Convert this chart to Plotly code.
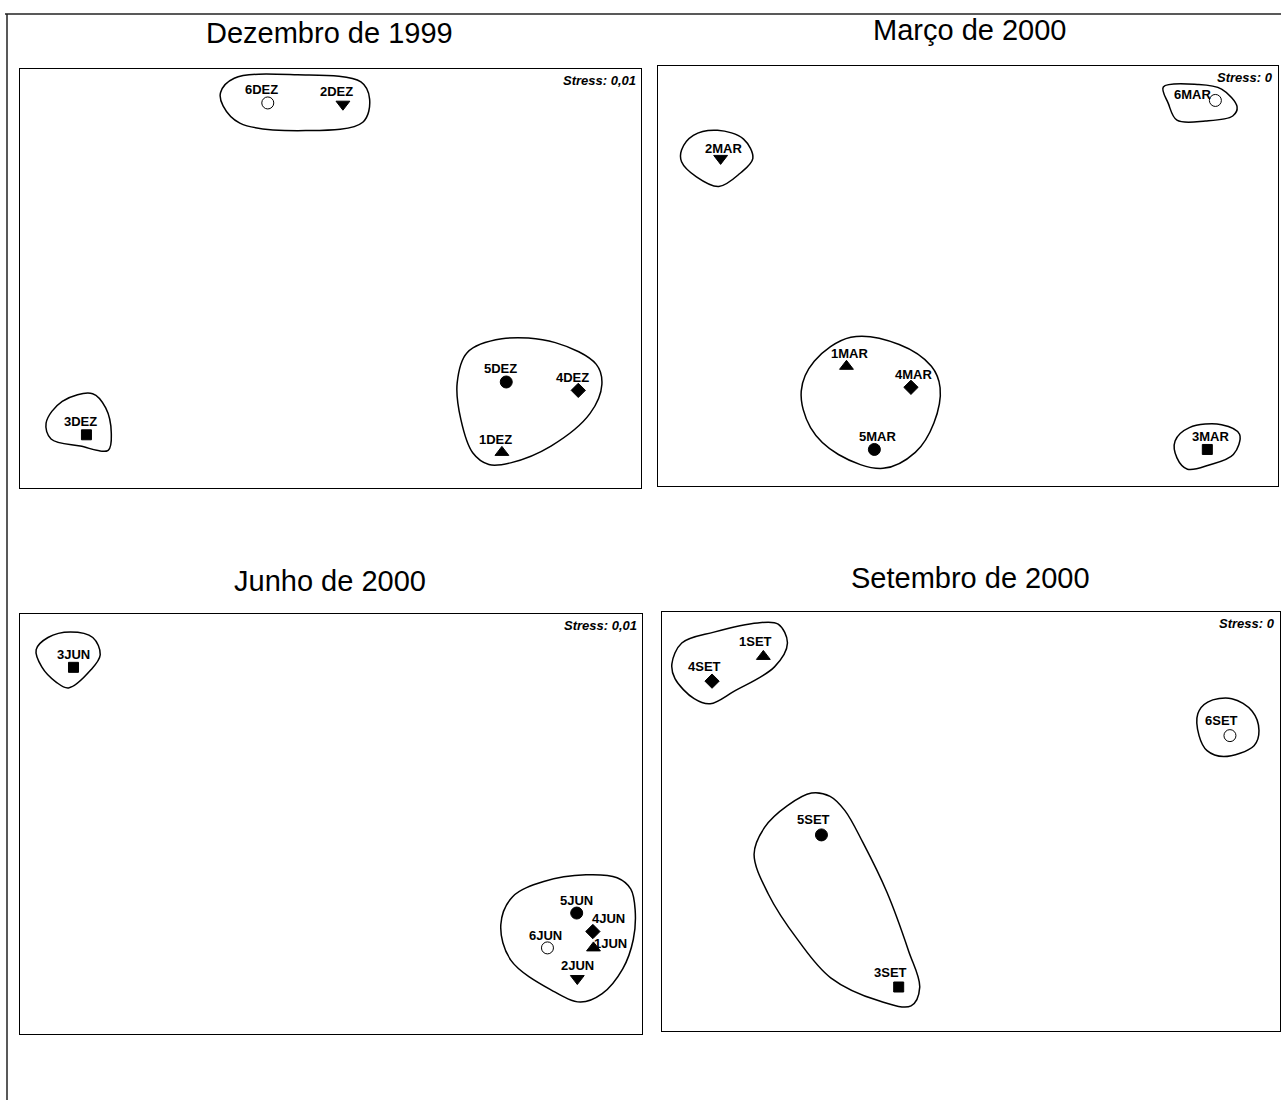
import plotly.graph_objects as go

# MDS ordination scores, rescaled to 0-100 on both axes of each panel
dez_sites = ["1DEZ", "2DEZ", "3DEZ", "4DEZ", "5DEZ", "6DEZ"]
dez_x = [77.6, 52.0, 10.7, 89.9, 78.3, 39.9]
dez_y = [8.5, 91.6, 12.7, 23.3, 25.3, 91.9]

mar_sites = ["1MAR", "2MAR", "3MAR", "4MAR", "5MAR", "6MAR"]
mar_x = [30.4, 10.1, 88.6, 40.8, 34.9, 89.9]
mar_y = [28.5, 78.0, 8.7, 23.5, 8.7, 91.8]

jun_sites = ["1JUN", "2JUN", "3JUN", "4JUN", "5JUN", "6JUN"]
jun_x = [92.2, 89.6, 8.6, 92.1, 89.5, 84.8]
jun_y = [20.5, 13.2, 87.3, 24.4, 28.8, 20.5]

set_sites = ["1SET", "3SET", "4SET", "5SET", "6SET"]
set_x = [16.4, 38.3, 8.1, 25.8, 91.9]
set_y = [89.4, 10.5, 83.5, 46.8, 70.5]

stress = ["0,01", "0", "0,01", "0"]
titles = ["Dezembro de 1999", "Março de 2000", "Junho de 2000", "Setembro de 2000"]

# similarity group envelopes (outline vertices, same units as the scores)
env_dez = [
    [(32.3, 94.4), (34.5, 97.8), (44.7, 98.6), (54.9, 96.9), (56.3, 92.8),
     (55.2, 87.3), (46.0, 85.3), (35.4, 87.1), (32.7, 91.2)],
    [(4.2, 15.5), (6.8, 20.7), (11.7, 22.5), (13.8, 19.1), (14.7, 13.1),
     (14.2, 9.0), (9.7, 10.0), (5.0, 11.7)],
    [(70.4, 25.1), (72.0, 32.3), (77.6, 35.6), (86.2, 34.7), (92.8, 29.5),
     (93.7, 24.7), (91.8, 17.8), (85.5, 10.0), (79.0, 6.0), (75.5, 5.6),
     (72.9, 8.4), (71.0, 16.3)],
]
env_mar = [
    [(81.5, 95.0), (87.0, 95.6), (90.9, 94.5), (93.4, 90.3), (92.7, 88.1),
     (88.3, 86.9), (83.7, 87.1), (82.3, 91.1)],
    [(3.8, 80.0), (5.7, 83.5), (9.6, 84.7), (13.8, 82.6), (15.3, 78.0),
     (13.2, 74.4), (9.8, 71.3), (6.2, 73.6), (3.8, 77.2)],
    [(23.1, 22.6), (25.2, 29.7), (31.1, 35.4), (38.9, 33.7), (44.1, 28.5),
     (45.5, 23.4), (44.5, 15.0), (41.5, 8.0), (36.3, 4.2), (29.1, 7.5), (24.6, 13.9)],
    [(83.4, 10.7), (85.7, 13.9), (90.9, 14.6), (93.8, 12.3), (92.8, 7.5),
     (88.9, 5.0), (85.4, 4.0), (83.7, 6.7)],
]
env_jun = [
    [(2.6, 91.5), (4.5, 94.4), (8.1, 95.7), (11.7, 94.4), (12.9, 90.3),
     (11.4, 86.7), (7.8, 82.4), (5.8, 83.8), (3.5, 87.4)],
    [(77.3, 26.0), (79.2, 32.7), (84.2, 36.3), (91.0, 37.9), (96.0, 37.2),
     (98.2, 34.5), (98.9, 29.5), (98.6, 22.5), (96.9, 15.5), (93.6, 9.6), (90.1, 7.6),
     (85.5, 10.4), (78.9, 17.6)],
]
env_set = [
    [(1.6, 87.6), (3.2, 92.6), (8.4, 95.2), (15.5, 97.4), (18.8, 97.1),
     (20.3, 92.6), (18.2, 86.9), (11.7, 81.1), (7.8, 78.1), (5.2, 79.3), (2.1, 84.1)],
    [(86.7, 75.7), (88.3, 78.5), (92.2, 79.3), (95.5, 76.3), (96.6, 71.7),
     (95.8, 68.1), (90.9, 65.5), (88.2, 66.9), (86.9, 70.5)],
    [(14.9, 42.2), (16.6, 48.6), (20.3, 53.8), (24.2, 56.8), (27.2, 56.0),
     (29.6, 52.6), (32.5, 45.0), (36.4, 33.1), (39.9, 19.1), (41.7, 10.4), (40.3, 6.0),
     (35.1, 7.2), (27.3, 12.7), (22.1, 21.5), (17.2, 32.7)],
]

# styling
SYMBOLS = {"1": "triangle-up", "2": "triangle-down", "3": "square",
           "4": "diamond", "5": "circle", "6": "circle-open"}
SIZES = {"1": 12, "2": 12, "3": 10, "4": 11, "5": 12, "6": 12}
# label offset from its marker in pixels (dx, dy up); panel default + exceptions
PANEL_OFFSET = [(-6, 13), (3, 13), (0, 13), (-8, 15)]
LABEL_OFFSET = {"2MAR": (3, 10), "6MAR": (-23, 6), "4JUN": (16, 13),
                "1JUN": (17, 4), "6JUN": (-2, 12)}

W, H = 1281, 1103
boxes = [(20, 641, 69, 488), (658, 1278, 66, 486), (20, 642, 614, 1034), (662, 1280, 612, 1031)]
title_xy = [(329, 33), (970, 30), (330, 581), (971, 578)]
FONT = "Liberation Sans, Arial, sans-serif"

panels = [
    (dez_sites, dez_x, dez_y, env_dez),
    (mar_sites, mar_x, mar_y, env_mar),
    (jun_sites, jun_x, jun_y, env_jun),
    (set_sites, set_x, set_y, env_set),
]

fig = go.Figure()
annotations = []
for i, (sites, xs, ys, envs) in enumerate(panels):
    n = "" if i == 0 else str(i + 1)
    xa, ya = "x" + n, "y" + n

    for env in envs:
        ex = [p[0] for p in env] + [env[0][0]]
        ey = [p[1] for p in env] + [env[0][1]]
        fig.add_trace(go.Scatter(x=ex, y=ey, mode="lines", xaxis=xa, yaxis=ya,
                                 line=dict(color="black", width=1.5, shape="spline", smoothing=1.0),
                                 hoverinfo="skip", showlegend=False))

    for s, x, y in zip(sites, xs, ys):
        k = s[0]
        fig.add_trace(go.Scatter(
            x=[x], y=[y], mode="markers", xaxis=xa, yaxis=ya,
            marker=dict(symbol=SYMBOLS[k], size=SIZES[k], color="black",
                        line=dict(color="black", width=1)),
            name=s, showlegend=False))
        dx, dy = LABEL_OFFSET.get(s, PANEL_OFFSET[i])
        annotations.append(dict(text="<b>" + s + "</b>", xref=xa, yref=ya, x=x, y=y,
                                xanchor="center", yanchor="middle", xshift=dx, yshift=dy,
                                showarrow=False, font=dict(family=FONT, size=13, color="black")))

    l, r, t, b = boxes[i]
    ax = dict(domain=[l / W, r / W], range=[0, 100], showticklabels=False, ticks="",
              showgrid=False, zeroline=False, showline=True, mirror=True,
              linecolor="black", linewidth=1.2, fixedrange=True)
    ay = dict(domain=[1 - b / H, 1 - t / H], range=[0, 100], showticklabels=False, ticks="",
              showgrid=False, zeroline=False, showline=True, mirror=True,
              linecolor="black", linewidth=1.2, fixedrange=True)
    ax["anchor"] = ya
    ay["anchor"] = xa
    fig.layout["xaxis" + n] = ax
    fig.layout["yaxis" + n] = ay

    annotations.append(dict(text="<b><i>Stress: " + stress[i] + "</i></b>",
                            xref=xa + " domain", yref=ya + " domain", x=1, y=1,
                            xanchor="right", yanchor="top", xshift=-3, yshift=-2,
                            showarrow=False, font=dict(family=FONT, size=13, color="black")))
    tx, ty = title_xy[i]
    annotations.append(dict(text=titles[i], xref="paper", yref="paper", x=tx / W, y=1 - ty / H,
                            xanchor="center", yanchor="middle", showarrow=False,
                            font=dict(family=FONT, size=29, color="black")))

fig.update_layout(
    width=W, height=H, margin=dict(l=0, r=0, t=0, b=0),
    paper_bgcolor="white", plot_bgcolor="white",
    annotations=annotations,
    shapes=[
        dict(type="line", xref="paper", yref="paper", x0=5 / W, x1=1, y0=1 - 14 / H, y1=1 - 14 / H,
             line=dict(color="#222", width=1.5)),
        dict(type="line", xref="paper", yref="paper", x0=7 / W, x1=7 / W, y0=1 - 14 / H, y1=1 - 1100 / H,
             line=dict(color="#222", width=1.5)),
    ],
)

# the page's default 8px body margin would push the fixed-size figure off the window
fig.write_html("out.html", config={"displayModeBar": False},
               post_script="document.body.style.margin='0';")
